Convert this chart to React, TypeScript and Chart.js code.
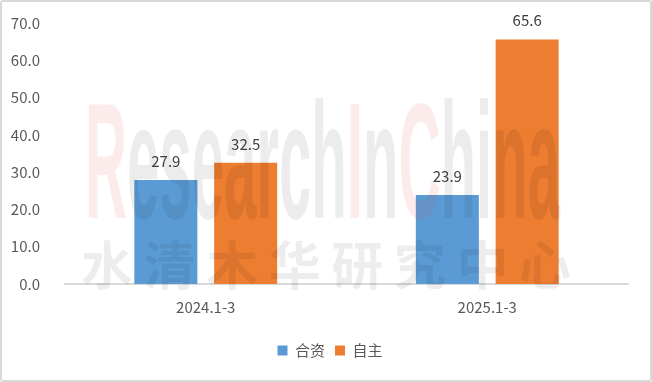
import React, { useEffect, useRef } from "react";
import { Chart, registerables } from "chart.js";

Chart.register(...registerables);

const categories = ["2024.1-3", "2025.1-3"];
const seriesNames = ["合资", "自主"];
const jvValues = [27.9, 23.9];
const ownValues = [32.5, 65.6];
const seriesColors = ["#5B9BD5", "#ED7D31"];
const yTicks = [0, 10, 20, 30, 40, 50, 60, 70];
const watermarkEn = "ResearchInChina";
const watermarkCn = "水清木华研究中心";

const FONT = '"Noto Sans CJK SC", "Noto Sans", sans-serif';

const dataLabelPlugin = {
  id: "dataLabels",
  afterDatasetsDraw(chart: any) {
    const ctx = chart.ctx;
    ctx.save();
    ctx.font = `15px ${FONT}`;
    ctx.fillStyle = "#404040";
    ctx.textAlign = "center";
    ctx.textBaseline = "middle";
    chart.data.datasets.forEach((ds: any, i: number) => {
      const meta = chart.getDatasetMeta(i);
      meta.data.forEach((bar: any, j: number) => {
        ctx.fillText(Number(ds.data[j]).toFixed(1), bar.x, bar.y - 19);
      });
    });
    ctx.restore();
  },
};

const legendShiftPlugin = {
  id: "legendShift",
  afterLayout(chart: any) {
    if (chart.legend) {
      chart.legend.left += 15;
      chart.legend.right += 15;
    }
  },
};

const watermarkPlugin = {
  id: "watermark",
  afterDatasetsDraw(chart: any) {
    const ctx = chart.ctx;
    ctx.save();
    const left = 83, right = 558, baseline = 216;
    ctx.font = `bold 165px "Liberation Sans Narrow", "Liberation Sans", sans-serif`;
    ctx.textBaseline = "alphabetic";
    ctx.textAlign = "left";
    const total = ctx.measureText(watermarkEn).width;
    const sx = (right - left) / total;
    let x = 0;
    for (const ch of watermarkEn) {
      const w = ctx.measureText(ch).width;
      const pink = ch === "R" || ch === "I" || ch === "C";
      ctx.fillStyle = pink ? "rgba(225,60,60,0.10)" : "rgba(0,0,0,0.075)";
      ctx.save();
      ctx.translate(left + x * sx, baseline);
      ctx.scale(sx, 1);
      ctx.fillText(ch, 0, 0);
      ctx.restore();
      x += w;
    }
    ctx.font = `bold 52px "Noto Sans CJK SC", sans-serif`;
    ctx.textAlign = "center";
    ctx.textBaseline = "middle";
    ctx.fillStyle = "rgba(0,0,0,0.07)";
    const chars = Array.from(watermarkCn);
    const c0 = 105, c1 = 543;
    chars.forEach((ch, i) => {
      const cx = c0 + ((c1 - c0) * i) / (chars.length - 1);
      ctx.fillText(ch, cx, 263);
    });
    ctx.restore();
  },
};

export default function App() {
  const ref = useRef<HTMLCanvasElement>(null);
  useEffect(() => {
    document.body.style.margin = "0";
    const chart = new Chart(ref.current!, {
      type: "bar",
      data: {
        labels: categories,
        datasets: [
          {
            label: seriesNames[0],
            data: jvValues,
            backgroundColor: seriesColors[0],
            categoryPercentage: 0.567,
            barPercentage: 0.79,
          },
          {
            label: seriesNames[1],
            data: ownValues,
            backgroundColor: seriesColors[1],
            categoryPercentage: 0.567,
            barPercentage: 0.79,
          },
        ],
      },
      options: {
        animation: false,
        responsive: false,
        maintainAspectRatio: false,
        layout: { padding: { left: 0, right: 22, top: 21, bottom: 12 } },
        plugins: {
          legend: {
            position: "bottom",
            labels: {
              boxWidth: 10,
              boxHeight: 10,
              padding: 10,
              color: "#595959",
              font: { family: FONT, size: 15 },
            },
          },
          tooltip: { enabled: false },
        },
        scales: {
          x: {
            grid: { display: false },
            border: { display: true, color: "#d9d9d9", width: 2 },
            ticks: { color: "#595959", font: { family: FONT, size: 15 }, padding: 6 },
            afterFit: (s: any) => {
              s.height = 49;
              s.paddingLeft = 0;
              s.paddingRight = 0;
            },
          },
          y: {
            min: 0,
            max: 70,
            grid: { display: false },
            border: { display: false },
            afterBuildTicks: (s: any) => {
              s.ticks = yTicks.map((v) => ({ value: v }));
            },
            ticks: {
              color: "#595959",
              font: { family: FONT, size: 15 },
              padding: 17,
              callback: (v: any) => Number(v).toFixed(1),
            },
            afterFit: (s: any) => {
              s.width = 63;
              s.paddingTop = 0;
              s.paddingBottom = 0;
            },
          },
        },
      },
      plugins: [watermarkPlugin, dataLabelPlugin, legendShiftPlugin],
    });
    return () => chart.destroy();
  }, []);
  return (
    <div
      style={{
        position: "fixed",
        left: 0,
        top: 0,
        width: 652,
        height: 382,
        boxSizing: "border-box",
        border: "2px solid #d9d9d9",
        borderRadius: 3,
        background: "#fff",
      }}
    >
      <canvas ref={ref} width={648} height={378} style={{ display: "block" }} />
    </div>
  );
}
